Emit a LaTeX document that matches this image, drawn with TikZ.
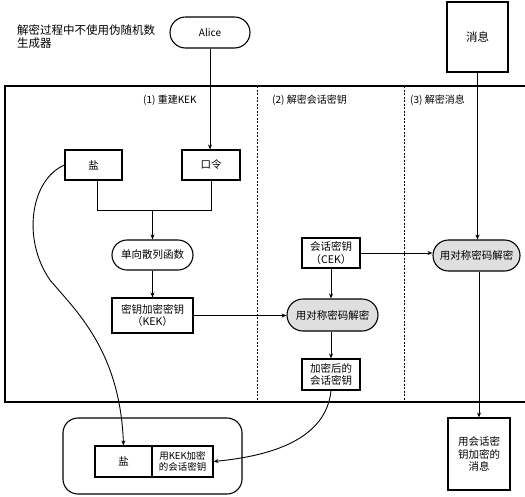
\documentclass[tikz,border=0pt]{standalone}
\usepackage{fontspec}
\setmainfont{Noto Sans CJK SC}
\usetikzlibrary{arrows.meta,shapes.misc}
\begin{document}
\begin{tikzpicture}[x=1pt,y=-1pt,
  box/.style={draw,line width=1.1pt,inner sep=0pt,align=center,font=\fontsize{10.5}{12.5}\selectfont},
  pill/.style={draw,line width=1.1pt,rounded rectangle,inner sep=0pt,align=center,font=\fontsize{10.5}{12.5}\selectfont},
  grpill/.style={pill,fill=gray!25},
  lbl/.style={inner sep=0pt,anchor=west,font=\fontsize{10}{12}\selectfont},
  arr/.style={-{Stealth[length=5pt,width=4pt]},line width=0.9pt},
  ln/.style={line width=0.9pt},
  frame/.style={line width=1.2pt},
  divider/.style={line width=1pt,dash pattern=on 2pt off 1.5pt}]
\useasboundingbox (0,0) rectangle (525,496);
% frame
\draw[frame] (525,86) -- (5,86) -- (5,402) -- (525,402);
\draw[divider] (257,86) -- (257,402);
\draw[divider] (404,86) -- (404,402);
\node[lbl] (l1) at (143,100) {(1) 重建KEK};
\node[lbl] (l2) at (272,100) {(2) 解密会话密钥};
\node[lbl] (l3) at (410,100) {(3) 解密消息};
% top
\node[inner sep=0pt,anchor=north west,align=left,font=\fontsize{11.5}{13}\selectfont] (note) at (17,25) {解密过程中不使用伪随机数\\生成器};
\node[pill,minimum width=80pt,minimum height=31pt,font=\fontsize{10}{12}\selectfont] (alice) at (210,32.5) {Alice};
\node[box,minimum width=61pt,minimum height=70pt,font=\fontsize{11.5}{13}\selectfont] (msg) at (477.5,37) {消息};
% stage 1
\node[box,minimum width=57pt,minimum height=30pt] (salt) at (93.5,165) {盐};
\node[box,minimum width=58pt,minimum height=30pt] (pw) at (211,165) {口令};
\node[pill,minimum width=81pt,minimum height=30pt] (hash) at (152.5,255) {单向散列函数};
\node[box,minimum width=81pt,minimum height=35pt] (kek) at (152.5,315.5) {密钥加密密钥\\（KEK）};
% stage 2
\node[box,minimum width=58pt,minimum height=30pt] (cek) at (331,253) {会话密钥\\（CEK）};
\node[grpill,minimum width=91pt,minimum height=32pt] (dec1) at (332.5,315) {用对称密码解密};
\node[box,minimum width=58pt,minimum height=31pt] (ekey) at (331,374.5) {加密后的\\会话密钥};
% stage 3
\node[grpill,minimum width=87pt,minimum height=31pt] (dec2) at (476.5,255.5) {用对称密码解密};
\node[box,minimum width=62pt,minimum height=72pt] (emsg) at (479,454) {用会话密\\钥加密的\\消息};
% bottom container
\draw[line width=1.1pt,rounded corners=15pt] (63,418) rectangle (242,494);
\node[box,minimum width=57pt,minimum height=31pt] (bsalt) at (123.5,461.5) {盐};
\node[box,minimum width=61pt,minimum height=31pt,font=\fontsize{9.5}{11.5}\selectfont] (bkey) at (182.5,461.5) {用KEK加密\\的会话密钥};
% connectors
\draw[arr] (alice.south) -- (alice.south |- pw.north);
\coordinate (j) at (152.5,210);
\draw[ln] (97,180) |- (j);
\draw[ln] (pw.south) |- (j);
\draw[arr] (j) -- (hash.north);
\draw[arr] (hash.south) -- (kek.north);
\draw[arr] (kek.east) -- (dec1.west |- kek.east);
\draw[arr] (cek.south) -- (cek.south |- dec1.north);
\draw[arr] (dec1.south -| ekey.north) -- (ekey.north);
\draw[arr] (cek.east) -- (cek.east -| dec2.west);
\draw[arr] (msg.south) -- (msg.south |- dec2.north);
\draw[arr] (dec2.south -| emsg.north) -- (emsg.north);
\draw[arr] (salt.west) .. controls (30,180) and (22,240) .. (50,280) .. controls (75,310) and (120,350) .. (bsalt.north);
\draw[arr] (ekey.south) .. controls (326,440) and (270,456) .. (bkey.east);
\end{tikzpicture}
\end{document}
